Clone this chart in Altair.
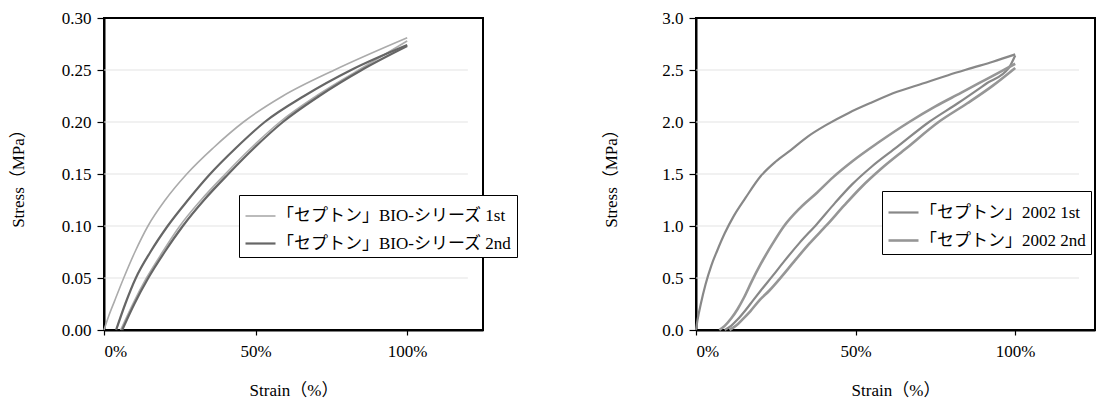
import altair as alt
import pandas as pd

# ---------------- Left chart: 「セプトン」BIO-シリーズ ----------------
L_SERIES = ["「セプトン」BIO-シリーズ 1st", "「セプトン」BIO-シリーズ 2nd"]
L_COLORS = ["#ababab", "#666666"]

L1_load_x = [0, 1.5, 3.5, 6.5, 10.2, 14.5, 20.2, 27.3, 36, 46, 59, 76, 100]
L1_load_y = [0, 0.013, 0.028, 0.05, 0.075, 0.10, 0.125, 0.15, 0.175, 0.20, 0.225, 0.25, 0.281]
L1_unload_x = [100, 84, 70, 58, 48.5, 40, 32, 25, 19.3, 14, 9.5, 5.5]
L1_unload_y = [0.278, 0.25, 0.225, 0.20, 0.175, 0.15, 0.125, 0.10, 0.075, 0.05, 0.025, 0]
L2_load_x = [4, 7, 10.5, 15.3, 21, 27.7, 35, 43.5, 53, 66, 81.5, 100]
L2_load_y = [0, 0.025, 0.05, 0.075, 0.10, 0.125, 0.15, 0.175, 0.20, 0.225, 0.25, 0.274]
L2_unload_x = [100, 85, 71, 59, 49.5, 41, 33, 26, 20, 14.6, 10, 6]
L2_unload_y = [0.273, 0.25, 0.225, 0.20, 0.175, 0.15, 0.125, 0.10, 0.075, 0.05, 0.025, 0]

L_Y_TICKS = [0, 0.05, 0.10, 0.15, 0.20, 0.25, 0.30]
L_GRID = [0.05, 0.10, 0.15, 0.20, 0.25]

# ---------------- Right chart: 「セプトン」2002 ----------------
R_SERIES = ["「セプトン」2002 1st", "「セプトン」2002 2nd"]
R_COLORS = ["#888888", "#969696"]

R1_load_x = [0, 0.5, 1.5, 3, 4.8, 6.6, 9, 11.9, 15.5, 20.3, 25, 29.7, 35, 40.7, 48, 55.2, 63, 71, 79, 86.5, 93, 100]
R1_load_y = [0, 0.10, 0.25, 0.44, 0.62, 0.76, 0.93, 1.10, 1.27, 1.48, 1.62, 1.73, 1.86, 1.97, 2.09, 2.19, 2.29, 2.37, 2.45, 2.52, 2.58, 2.65]
R1_unload_x = [100, 98, 91, 82, 73, 63, 55, 48.9, 43.5, 37.9, 32.5, 27.6, 24, 20.3, 18, 15.5, 13, 11, 9]
R1_unload_y = [2.64, 2.52, 2.37, 2.18, 2.0, 1.76, 1.57, 1.40, 1.22, 1.02, 0.84, 0.66, 0.52, 0.38, 0.29, 0.19, 0.10, 0.04, 0]
R2_load_x = [7.3, 9, 11, 13, 15, 17.5, 20.2, 24, 27.6, 32.5, 37.9, 43, 48.9, 57, 66.8, 75, 83, 91.5, 100]
R2_load_y = [0, 0.04, 0.11, 0.20, 0.31, 0.47, 0.63, 0.83, 1.0, 1.17, 1.32, 1.47, 1.62, 1.80, 2.0, 2.15, 2.28, 2.42, 2.56]
R2_unload_x = [100, 93, 85, 76, 66, 58, 52, 46.5, 41, 35.5, 30.5, 27, 23, 20, 17, 14.5, 12.5, 10.5]
R2_unload_y = [2.52, 2.35, 2.18, 2.0, 1.75, 1.55, 1.38, 1.20, 1.01, 0.83, 0.65, 0.52, 0.38, 0.29, 0.18, 0.10, 0.04, 0]

R_Y_TICKS = [0, 0.5, 1.0, 1.5, 2.0, 2.5, 3.0]
R_GRID = [0.5, 1.0, 1.5, 2.0, 2.5]

X_TICKS = [0, 50, 100]
X_DOMAIN = [0, 125]
GRID_END = 120

FONT = "Liberation Serif, Noto Sans CJK JP"


def make_df(items):
    rows = []
    for series, seg, xs, ys in items:
        for i, (x, y) in enumerate(zip(xs, ys)):
            rows.append({"series": series, "seg": seg, "i": i, "strain": x, "stress": y})
    return pd.DataFrame(rows)


left_df = make_df([
    (L_SERIES[0], "1-load", L1_load_x, L1_load_y),
    (L_SERIES[0], "1-unload", L1_unload_x, L1_unload_y),
    (L_SERIES[1], "2-load", L2_load_x, L2_load_y),
    (L_SERIES[1], "2-unload", L2_unload_x, L2_unload_y),
])
right_df = make_df([
    (R_SERIES[0], "1-load", R1_load_x, R1_load_y),
    (R_SERIES[0], "1-unload", R1_unload_x, R1_unload_y),
    (R_SERIES[1], "2-load", R2_load_x, R2_load_y),
    (R_SERIES[1], "2-unload", R2_unload_x, R2_unload_y),
])


def panel(df, series, colors, widths, yticks, ymax, yfmt, grid, width, legend_xy, title_pad):
    xscale = alt.Scale(domain=X_DOMAIN, nice=False, zero=False)
    yscale = alt.Scale(domain=[0, ymax], nice=False)
    xaxis = alt.Axis(values=X_TICKS, labelExpr="datum.value + '%'", title="Strain（%）",
                     tickSize=5, labelPadding=8, titlePadding=23)
    yaxis = alt.Axis(values=yticks, format=yfmt, title="Stress（MPa）",
                     tickSize=7, labelPadding=6, titlePadding=title_pad)

    grid_df = pd.DataFrame({"g": grid})
    gridlines = alt.Chart(grid_df).mark_rule(color="#e3e3e3", strokeWidth=1.2).encode(
        y=alt.Y("g:Q", scale=yscale, axis=yaxis),
        x=alt.datum(0, scale=xscale, axis=xaxis),
        x2=alt.datum(GRID_END),
    )
    lines = alt.Chart(df).mark_line(strokeJoin="round", interpolate="monotone").encode(
        x=alt.X("strain:Q", scale=xscale, axis=xaxis),
        y=alt.Y("stress:Q", scale=yscale, axis=yaxis),
        detail="seg:N",
        order="i:Q",
        color=alt.Color("series:N", scale=alt.Scale(domain=series, range=colors),
                        legend=alt.Legend(title=None, orient="none",
                                          legendX=legend_xy[0], legendY=legend_xy[1],
                                          fillColor="white", strokeColor="black",
                                          padding=5, rowPadding=3,
                                          symbolType="stroke", symbolSize=900,
                                          symbolStrokeWidth=2.4, labelOffset=0,
                                          labelFont=FONT, labelFontSize=17,
                                          labelColor="black", labelLimit=400)),
        strokeWidth=alt.StrokeWidth("series:N", scale=alt.Scale(domain=series, range=widths),
                                    legend=None),
    )
    return alt.layer(gridlines, lines).properties(width=width, height=312)


left = panel(left_df, L_SERIES, L_COLORS, [1.6, 2.2], L_Y_TICKS, 0.30, ".2f", L_GRID,
             379, (135, 177), 34)
right = panel(right_df, R_SERIES, R_COLORS, [2.2, 2.6], R_Y_TICKS, 3.0, ".1f", R_GRID,
              399, (186, 173), 41)

chart = alt.hconcat(left, right, spacing=82).resolve_scale(
    color="independent", strokeWidth="independent"
).properties(
    padding=0, background="white"
).configure_view(
    stroke="black", strokeWidth=2
).configure_axis(
    labelFont=FONT, labelFontSize=17, labelColor="black",
    titleFont=FONT, titleFontSize=17, titleFontWeight="normal", titleColor="black",
    domainColor="black", domainWidth=2, tickColor="black", tickWidth=1.2, grid=False
)

chart.save("out.html", embed_options={"renderer": "svg", "actions": False})
